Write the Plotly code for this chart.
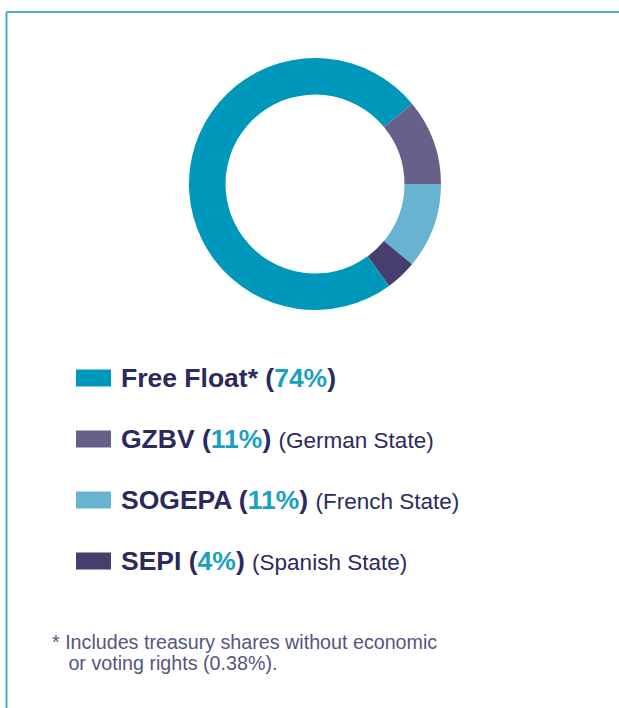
import plotly.graph_objects as go

W, H = 619, 708

labels = ["GZBV", "SOGEPA", "SEPI", "Free Float*"]
values = [11, 11, 4, 74]
notes = ["(German State)", "(French State)", "(Spanish State)", ""]
colors = ["#676189", "#68b3cf", "#463f6e", "#0098ba"]
legend_order = [3, 0, 1, 2]
footnote = ["* Includes treasury shares without economic", "   or voting rights (0.38%)."]

NAVY = "#2b2a5c"
TEAL = "#1aa0c2"
FONT = "Liberation Sans, Arial, sans-serif"


def px(x):
    return x / W


def py(y):
    return 1 - y / H


fig = go.Figure()
fig.add_trace(go.Pie(
    labels=labels, values=values, hole=0.71, sort=False, direction="clockwise",
    rotation=90 - values[0] * 3.6, textinfo="none", showlegend=False,
    marker=dict(colors=colors, line=dict(width=0)),
    domain=dict(x=[px(189), px(441)], y=[py(310), py(58)]),
))

shapes = [
    dict(type="line", xref="paper", yref="paper", x0=px(6.5), x1=1, y0=py(12), y1=py(12),
         line=dict(color="#4aaecf", width=2)),
    dict(type="line", xref="paper", yref="paper", x0=px(6.5), x1=px(6.5), y0=py(12), y1=0,
         line=dict(color="#4aaecf", width=2)),
]
annotations = []
row_y = [378, 439, 500, 561]
for row, i in enumerate(legend_order):
    yc = row_y[row]
    shapes.append(dict(type="rect", xref="paper", yref="paper", x0=px(76), x1=px(111),
                       y0=py(yc + 8.5), y1=py(yc - 8.5), fillcolor=colors[i], line=dict(width=0)))
    txt = f"<b>{labels[i]} (<span style='color:{TEAL}'>{values[i]}%</span>)</b>"
    if notes[i]:
        txt += f" <span style='font-size:22.5px'>{notes[i]}</span>"
    annotations.append(dict(xref="paper", yref="paper", x=px(119), y=py(yc), text=txt,
                            showarrow=False, xanchor="left", yanchor="middle",
                            font=dict(family=FONT, size=26.5, color=NAVY)))

for k, line in enumerate(footnote):
    annotations.append(dict(xref="paper", yref="paper", x=px(50), y=py(642 + 21 * k), text=line,
                            showarrow=False, xanchor="left", yanchor="middle",
                            font=dict(family=FONT, size=19.7, color="#55557f")))

fig.update_layout(
    width=W, height=H, margin=dict(l=0, r=0, t=0, b=0),
    paper_bgcolor="white", plot_bgcolor="white",
    shapes=shapes, annotations=annotations,
)
fig.write_html("out.html", config={"displayModeBar": False},
               post_script="document.body.style.margin='0';")
